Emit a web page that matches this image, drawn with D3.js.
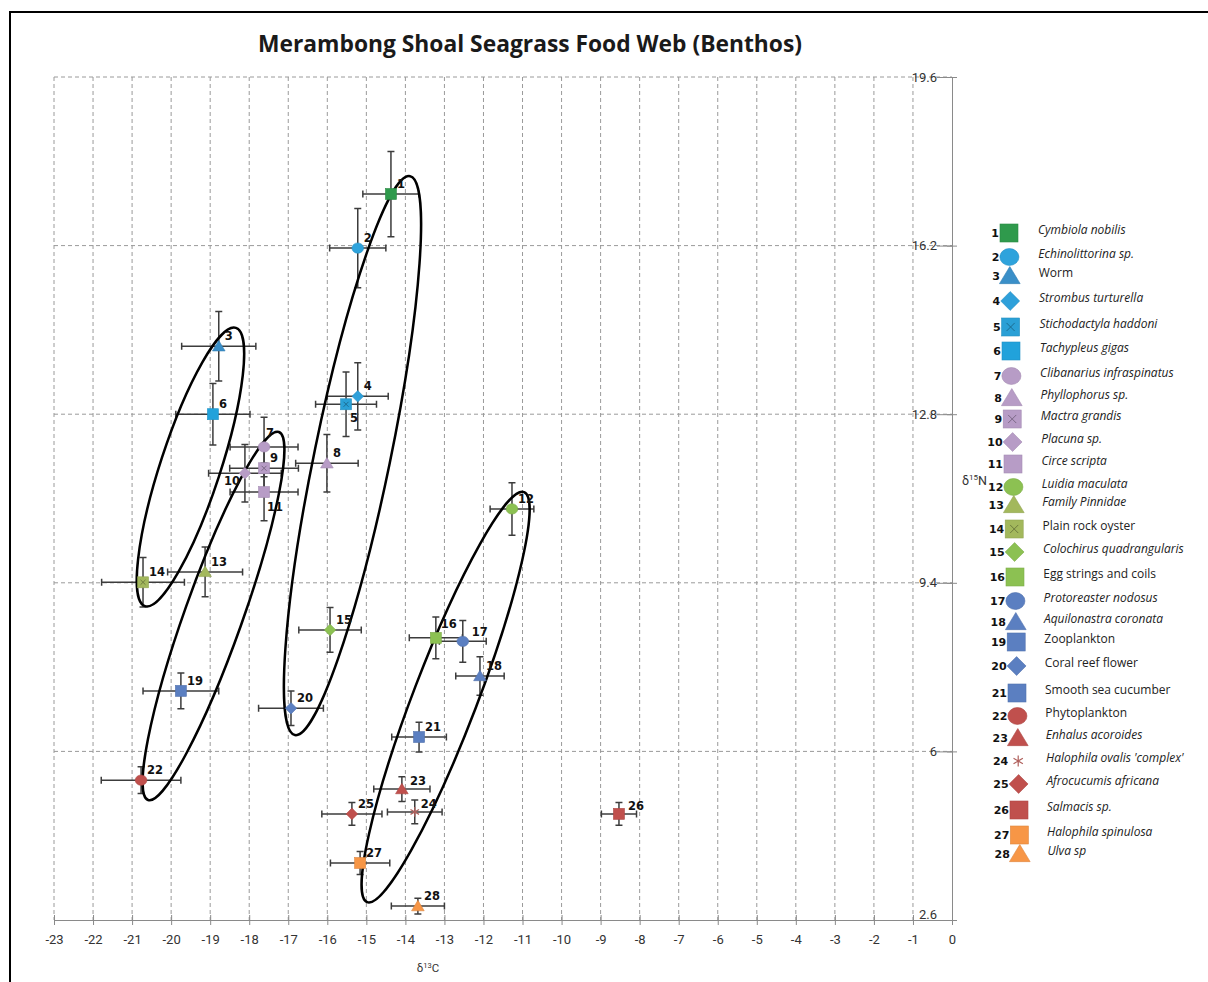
<!DOCTYPE html>
<html>
<head>
<meta charset="utf-8">
<script src="https://cdn.jsdelivr.net/npm/d3@7"></script>
<style>
  html, body { margin: 0; padding: 0; background: #fff; }
  svg { display: block; }
</style>
</head>
<body>
<svg id="chart" width="1208" height="982"></svg>
<script>
// Taxa of the benthic food web, numbered 1..28 in this order
const species = [
  "Cymbiola nobilis", "Echinolittorina sp.", "Worm", "Strombus turturella",
  "Stichodactyla haddoni", "Tachypleus gigas", "Clibanarius infraspinatus", "Phyllophorus sp.",
  "Mactra grandis", "Placuna sp.", "Circe scripta", "Luidia maculata",
  "Family Pinnidae", "Plain rock oyster", "Colochirus quadrangularis", "Egg strings and coils",
  "Protoreaster nodosus", "Aquilonastra coronata", "Zooplankton", "Coral reef flower",
  "Smooth sea cucumber", "Phytoplankton", "Enhalus acoroides", "Halophila ovalis 'complex'",
  "Afrocucumis africana", "Salmacis sp.", "Halophila spinulosa", "Ulva sp"
];
// Scientific names are set in italics
const italicName = [
  true, true, false, true, true, true, true, true, true, true, true, true,
  true, false, true, false, true, true, false, false, false, false, true, true,
  true, true, true, true
];
// Mean isotope values (per mil) and their spread
const d13C = [
  -14.37, -15.22, -18.78, -15.22, -15.52, -18.93, -17.62, -16.01, -17.62, -18.11,
  -17.62, -11.27, -19.13, -20.72, -15.93, -13.22, -12.53, -12.09, -19.75, -16.93,
  -13.65, -20.77, -14.09, -13.76, -15.37, -8.53, -15.16, -13.68
];
const d15N = [
  17.24, 16.15, 14.17, 13.16, 13.00, 12.80, 12.14, 11.81, 11.71, 11.61,
  11.23, 10.89, 9.62, 9.41, 8.45, 8.29, 8.22, 7.52, 7.22, 6.87,
  6.29, 5.42, 5.24, 4.78, 4.74, 4.74, 3.75, 2.88
];
const sdC = [
  0.72, 0.72, 0.95, 0.78, 0.78, 0.95, 0.87, 0.80, 0.88, 0.93,
  0.87, 0.56, 0.96, 1.06, 0.80, 0.68, 0.60, 0.62, 0.97, 0.83,
  0.70, 1.02, 0.72, 0.70, 0.77, 0.45, 0.76, 0.68
];
const sdN = [
  0.86, 0.80, 0.70, 0.68, 0.65, 0.62, 0.60, 0.58, 0.45, 0.58,
  0.58, 0.53, 0.50, 0.50, 0.45, 0.42, 0.42, 0.39, 0.36, 0.35,
  0.30, 0.27, 0.25, 0.24, 0.23, 0.23, 0.23, 0.16
];
const shapes = [
  "square", "circle", "triangle", "diamond", "squareX", "square", "circle", "triangle",
  "squareX", "diamond", "square", "circle", "triangle", "squareX", "diamond", "square",
  "circle", "triangle", "square", "diamond", "square", "circle", "triangle", "asterisk",
  "diamond", "square", "square", "triangle"
];
const colors = [
  "#2f9a4c", "#2ea3dc", "#3a8fc8", "#2ea0da", "#2aa0d6", "#21a2db",
  "#b79cc6", "#b79cc6", "#b79cc6", "#b79cc6", "#b79cc6",
  "#8cc152", "#a3b85c", "#a3b85c", "#8cc152", "#8cc152",
  "#5b7fc1", "#5b7fc1", "#5b7fc1", "#5b7fc1", "#5b7fc1",
  "#c0504d", "#c0504d", "#c0504d", "#c0504d", "#c0504d",
  "#f79646", "#f79646"
];
// Axis ticks
const xTicks = d3.range(-23, 1);
const yTicks = [2.6, 6, 9.4, 12.8, 16.2, 19.6];

// Trophic groupings: major-axis end points in isotope units
const groupTips = [
  [[-20.67, 8.93], [-18.34, 14.54]],
  [[-20.59, 5.02], [-17.24, 12.44]],
  [[-16.83, 6.33], [-13.88, 17.60]],
  [[-14.98, 2.96], [-10.96, 11.23]]
];
const groupHalfWidth = [30, 29, 38, 32]; // px

const data = species.map((name, i) => ({
  id: i + 1, name, italic: italicName[i],
  c: d13C[i], n: d15N[i], ec: sdC[i], en: sdN[i],
  shape: shapes[i], color: colors[i]
}));

const svg = d3.select("#chart");
const x = d3.scaleLinear().domain([-23, 0]).range([54, 952]);
const y = d3.scaleLinear().domain([2.6, 19.6]).range([920, 77]);

// frame
svg.append("rect").attr("x", 10).attr("y", 12).attr("width", 1230).attr("height", 1000)
  .attr("fill", "none").attr("stroke", "#000").attr("stroke-width", 2);

// title
svg.append("text").attr("x", 530).attr("y", 52).attr("text-anchor", "middle")
  .attr("font-family", "'Open Sans', sans-serif").attr("font-weight", 700)
  .attr("font-size", 22.8).attr("fill", "#1a1a1a")
  .text("Merambong Shoal Seagrass Food Web (Benthos)");

// grid
const grid = svg.append("g").attr("stroke", "#9a9a9a").attr("stroke-width", 1)
  .attr("stroke-dasharray", "4,3").attr("fill", "none");
grid.selectAll("line.v").data(xTicks.filter(t => t < 0)).join("line")
  .attr("x1", d => x(d)).attr("x2", d => x(d)).attr("y1", y(19.6)).attr("y2", y(2.6));
grid.selectAll("line.h").data(yTicks.filter(t => t > 2.6)).join("line")
  .attr("x1", x(-23)).attr("x2", x(0)).attr("y1", d => y(d)).attr("y2", d => y(d));

// axes (Excel style: y axis sits at x = 0, x axis at the bottom)
const axisColor = "#8a8a8a";
const tickFont = "'Liberation Sans Narrow', 'Roboto', sans-serif";
const xAxis = svg.append("g").attr("transform", `translate(0,${y(2.6)})`)
  .call(d3.axisBottom(x).tickValues(xTicks).tickSize(5).tickSizeOuter(0).tickFormat(d => String(d)));
xAxis.select(".domain").attr("stroke", axisColor);
xAxis.selectAll(".tick line").attr("stroke", axisColor).attr("y1", -5).attr("y2", 5);
xAxis.selectAll(".tick text").attr("y", 15).attr("font-size", 13)
  .attr("font-family", tickFont).attr("fill", "#333");

const yAxis = svg.append("g").attr("transform", `translate(${x(0)},0)`)
  .call(d3.axisLeft(y).tickValues(yTicks).tickSize(5).tickSizeOuter(0).tickFormat(d => String(d)));
yAxis.select(".domain").attr("stroke", axisColor);
yAxis.selectAll(".tick line").attr("stroke", axisColor).attr("x1", -5).attr("x2", 5);
yAxis.selectAll(".tick text").attr("x", -15).attr("dy", "0.32em").attr("font-size", 13)
  .attr("font-family", tickFont).attr("fill", "#333");
// short solid lead from each y label to the axis
yAxis.selectAll(".tick").append("line").attr("x1", -15).attr("x2", 0)
  .attr("stroke", axisColor).attr("stroke-width", 1);
yAxis.selectAll(".tick text").raise();
yAxis.selectAll(".tick").filter(d => d === 2.6).select("text").attr("dy", "-0.1em");

// axis titles
const xt = svg.append("text").attr("x", 428).attr("y", 972).attr("text-anchor", "middle")
  .attr("font-family", tickFont).attr("font-size", 11.5).attr("fill", "#333");
xt.append("tspan").text("δ");
xt.append("tspan").attr("font-size", 7.5).attr("dy", -4).text("13");
xt.append("tspan").attr("dy", 4).text("C");
const yt = svg.append("text").attr("x", 962).attr("y", 485)
  .attr("font-family", tickFont).attr("font-size", 12.5).attr("fill", "#333");
yt.append("tspan").text("δ");
yt.append("tspan").attr("font-size", 8).attr("dy", -5).text("15");
yt.append("tspan").attr("dy", 5).text("N");

// marker drawing
function drawMarker(g, shape, color, s) {
  const h = s / 2;
  if (shape === "square" || shape === "squareX") {
    g.append("rect").attr("x", -h).attr("y", -h).attr("width", s).attr("height", s)
      .attr("fill", color).attr("stroke", d3.color(color).darker(0.3)).attr("stroke-width", 0.6);
    if (shape === "squareX") {
      const k = h * 0.45;
      g.append("path").attr("d", `M${-k},${-k}L${k},${k}M${-k},${k}L${k},${-k}`)
        .attr("stroke", d3.color(color).darker(1.1)).attr("stroke-width", 1);
    }
  } else if (shape === "circle") {
    g.append("ellipse").attr("rx", h * 1.06).attr("ry", h * 0.94)
      .attr("fill", color).attr("stroke", d3.color(color).darker(0.3)).attr("stroke-width", 0.6);
  } else if (shape === "triangle") {
    const w = h * 1.15;
    g.append("path").attr("d", `M0,${-h * 1.05}L${w},${h * 0.85}L${-w},${h * 0.85}Z`)
      .attr("fill", color).attr("stroke", d3.color(color).darker(0.3)).attr("stroke-width", 0.6);
  } else if (shape === "diamond") {
    const r = h * 1.05;
    g.append("path").attr("d", `M0,${-r}L${r},0L0,${r}L${-r},0Z`)
      .attr("fill", color).attr("stroke", d3.color(color).darker(0.3)).attr("stroke-width", 0.6);
  } else if (shape === "asterisk") {
    const r = h * 0.9;
    const p = d3.range(3).map(j => {
      const a = Math.PI / 2 + j * Math.PI / 3;
      return `M${r * Math.cos(a)},${r * Math.sin(a)}L${-r * Math.cos(a)},${-r * Math.sin(a)}`;
    }).join("");
    g.append("path").attr("d", p).attr("stroke", "#b0605c").attr("stroke-width", 1.2).attr("fill", "none");
  }
}

// error bars
const eb = svg.append("g").attr("stroke", "#3c3c3c").attr("stroke-width", 1.5).attr("fill", "none");
const cap = 3.5;
data.forEach(d => {
  const cx = x(d.c), cy = y(d.n);
  const x0 = x(d.c - d.ec), x1 = x(d.c + d.ec), y0 = y(d.n - d.en), y1 = y(d.n + d.en);
  eb.append("path").attr("d",
    `M${x0},${cy}L${x1},${cy}M${x0},${cy - cap}L${x0},${cy + cap}M${x1},${cy - cap}L${x1},${cy + cap}` +
    `M${cx},${y0}L${cx},${y1}M${cx - cap},${y0}L${cx + cap},${y0}M${cx - cap},${y1}L${cx + cap},${y1}`);
});

// group ellipses
const eg = svg.append("g").attr("fill", "none").attr("stroke", "#000").attr("stroke-width", 2.5);
groupTips.forEach((tips, i) => {
  const [p, q] = tips.map(t => [x(t[0]), y(t[1])]);
  const cx = (p[0] + q[0]) / 2, cy = (p[1] + q[1]) / 2;
  const a = Math.hypot(q[0] - p[0], q[1] - p[1]) / 2;
  const ang = Math.atan2(q[1] - p[1], q[0] - p[0]) * 180 / Math.PI;
  eg.append("ellipse").attr("cx", 0).attr("cy", 0).attr("rx", a).attr("ry", groupHalfWidth[i])
    .attr("transform", `translate(${cx},${cy}) rotate(${ang})`);
});

// points
const pts = svg.append("g");
data.forEach(d => {
  const g = pts.append("g").attr("transform", `translate(${x(d.c)},${y(d.n)})`);
  drawMarker(g, d.shape, d.color, 11);
});

// point labels (placement tweaks where points crowd)
const labelShift = { 5: [4, 14], 7: [2, -14], 10: [-5, 8, "end"], 11: [3, 15], 16: [5, -14], 17: [9, -9], 26: [9, -8], 24: [6, -8], 23: [8, -8] };
const lab = svg.append("g").attr("font-family", "'DejaVu Sans', sans-serif").attr("font-weight", 700)
  .attr("font-size", 11.5).attr("fill", "#111");
data.forEach(d => {
  const s = labelShift[d.id] || [6, -10];
  lab.append("text").attr("x", x(d.c) + s[0]).attr("y", y(d.n) + s[1]).attr("dy", "0.35em")
    .attr("text-anchor", s[2] || "start").text(d.id);
});

// legend
const legendY = [233, 257, 276, 301, 327, 351, 376, 398, 419, 442, 464, 487, 505, 529,
  552, 577, 601, 622, 642, 666, 693, 716, 738, 761, 784, 810, 835, 854];
const leg = svg.append("g");
data.forEach((d, i) => {
  const ly = legendY[i];
  const mx = 1009 + i * 0.4;
  const g = leg.append("g");
  g.append("text").attr("x", mx - 10).attr("y", ly).attr("dy", "0.35em").attr("text-anchor", "end")
    .attr("font-family", "'DejaVu Sans', sans-serif").attr("font-weight", 700).attr("font-size", 11)
    .attr("fill", "#111").text(d.id);
  const m = g.append("g").attr("transform", `translate(${mx},${ly})`);
  drawMarker(m, d.shape, d.color, d.shape === "asterisk" ? 12 : 18);
  g.append("text").attr("x", 1038 + i * 0.35).attr("y", ly - 3).attr("dy", "0.35em")
    .attr("font-family", "'Open Sans', sans-serif").attr("font-size", 12)
    .attr("font-style", d.italic ? "italic" : "normal").attr("fill", "#222").text(d.name);
});
</script>
</body>
</html>
